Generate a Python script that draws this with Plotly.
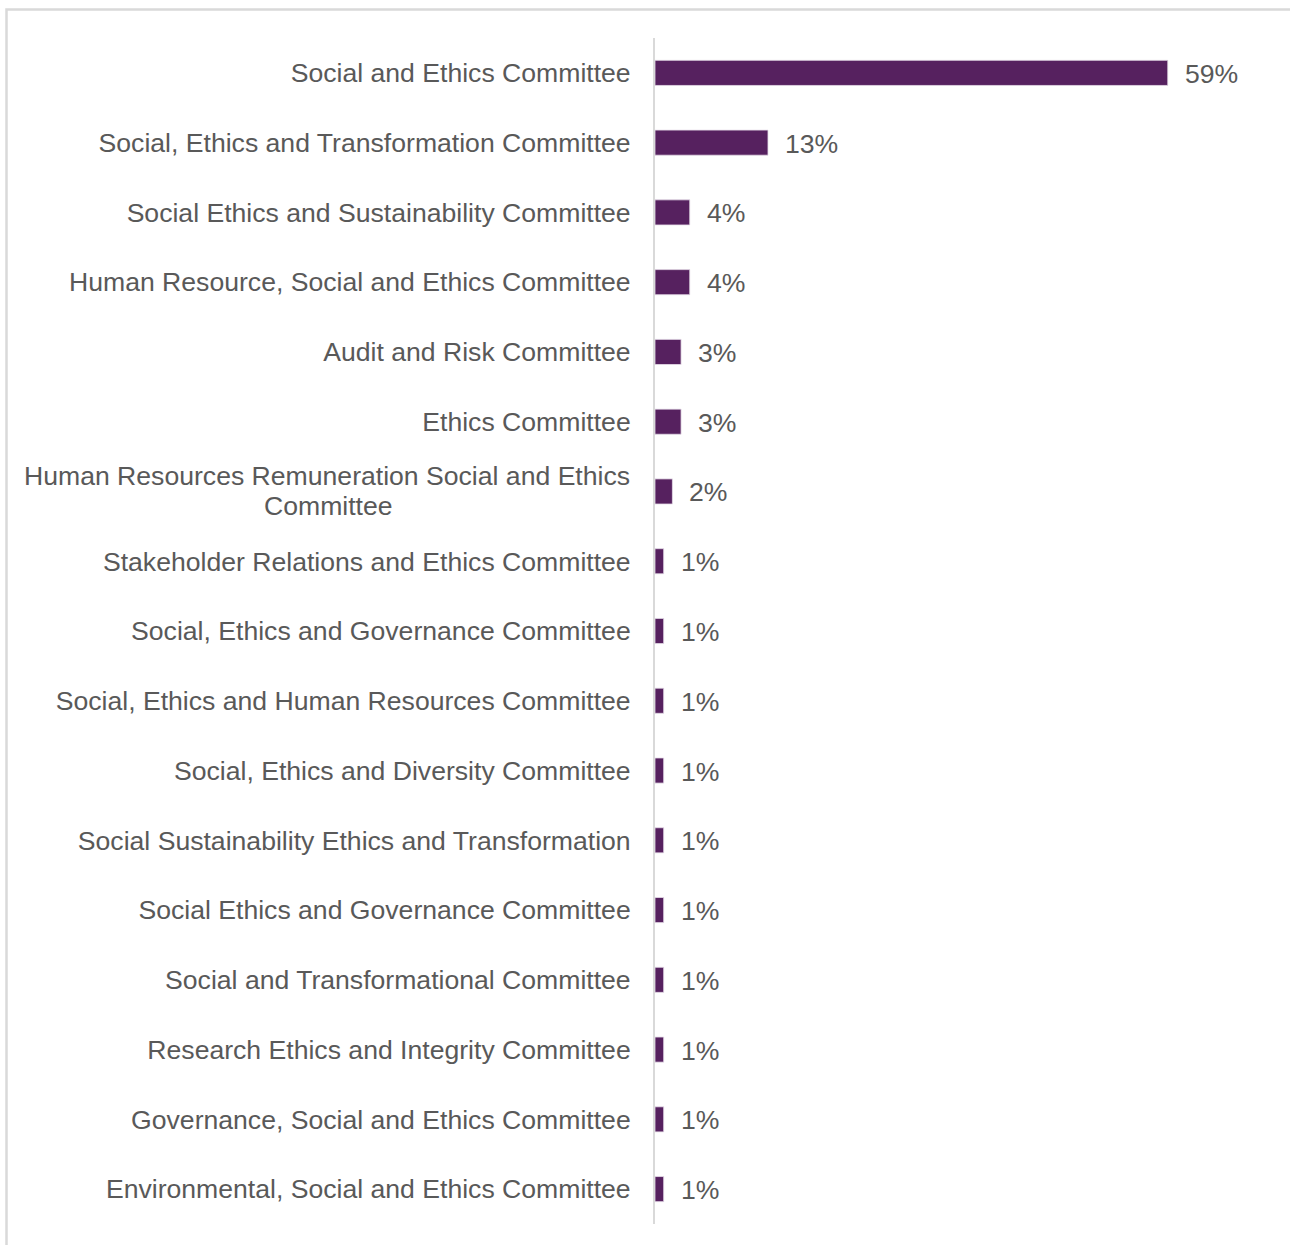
import plotly.graph_objects as go

# Committee names and share of responses (%)
committees = [
    "Social and Ethics Committee",
    "Social, Ethics and Transformation Committee",
    "Social Ethics and Sustainability Committee",
    "Human Resource, Social and Ethics Committee",
    "Audit and Risk Committee",
    "Ethics Committee",
    "Human Resources Remuneration Social and Ethics<br>Committee",
    "Stakeholder Relations and Ethics Committee",
    "Social, Ethics and Governance Committee",
    "Social, Ethics and Human Resources Committee",
    "Social, Ethics and Diversity Committee",
    "Social Sustainability Ethics and Transformation",
    "Social Ethics and Governance Committee",
    "Social and Transformational Committee",
    "Research Ethics and Integrity Committee",
    "Governance, Social and Ethics Committee",
    "Environmental, Social and Ethics Committee",
]
shares = [59, 13, 4, 4, 3, 3, 2, 1, 1, 1, 1, 1, 1, 1, 1, 1, 1]

BAR_COLOR = "#56215F"
TEXT_COLOR = "#595959"
FONT = "Liberation Sans, Arial, sans-serif"
FS = 26.6

W, H = 1290, 1245
ML, MR, MT, MB = 655, 44, 38, 21
plot_w = W - ML - MR
plot_h = H - MT - MB
LABEL_GAP = 23          # px between axis line and annotation box
LINE_STEP = 15          # half the line spacing of the wrapped label


def px_x(p):
    return (p - ML) / plot_w


def px_y(p):
    return (H - MB - p) / plot_h


# The wrapped label is a centred two-line block, drawn as annotations
wrapped = [c for c in committees if "<br>" in c]
ticktext = ["" if c in wrapped else c for c in committees]

fig = go.Figure(
    go.Bar(
        x=shares,
        y=committees,
        orientation="h",
        width=0.36,
        marker=dict(color=BAR_COLOR, line=dict(color="#E6DDE8", width=0.8)),
        hoverinfo="skip",
    )
)

label_font = dict(family=FONT, size=FS, color=TEXT_COLOR)
annotations = []
for c, v in zip(committees, shares):
    annotations.append(
        dict(
            x=v, y=c, xref="x", yref="y",
            text=f"{v}%", showarrow=False,
            xanchor="left", yanchor="middle", xshift=15, yshift=-1,
            font=label_font,
        )
    )
for c in wrapped:
    first, second = c.split("<br>")
    annotations.append(
        dict(
            x=0, y=c, xref="paper", yref="y",
            text=first, showarrow=False,
            xanchor="right", yanchor="middle",
            xshift=-LABEL_GAP, yshift=LINE_STEP,
            font=label_font,
        )
    )
    annotations.append(
        dict(
            x=px_x(328), y=c, xref="paper", yref="y",
            text=second, showarrow=False,
            xanchor="center", yanchor="middle", yshift=-LINE_STEP,
            font=label_font,
        )
    )

# Outer frame (left and top edges)
frame = dict(
    type="path", xref="paper", yref="paper",
    path=f"M {px_x(6.5)} {px_y(H + 5)} L {px_x(6.5)} {px_y(9.5)} L {px_x(W + 5)} {px_y(9.5)}",
    line=dict(color="#D9D9D9", width=2.5),
    layer="below",
)

fig.update_layout(
    width=W, height=H,
    margin=dict(l=ML, r=MR, t=MT, b=MB, pad=0),
    paper_bgcolor="white", plot_bgcolor="white",
    showlegend=False,
    font=label_font,
    xaxis=dict(range=[0, 68], visible=False, fixedrange=True),
    yaxis=dict(
        autorange="reversed",
        tickmode="array",
        tickvals=committees,
        ticktext=ticktext,
        showline=True, linecolor="#D9D9D9", linewidth=2,
        showgrid=False, zeroline=False,
        ticks="", ticklabelstandoff=17,
        tickfont=label_font,
    ),
    annotations=annotations,
    shapes=[frame],
)

fig.write_html("out.html")
